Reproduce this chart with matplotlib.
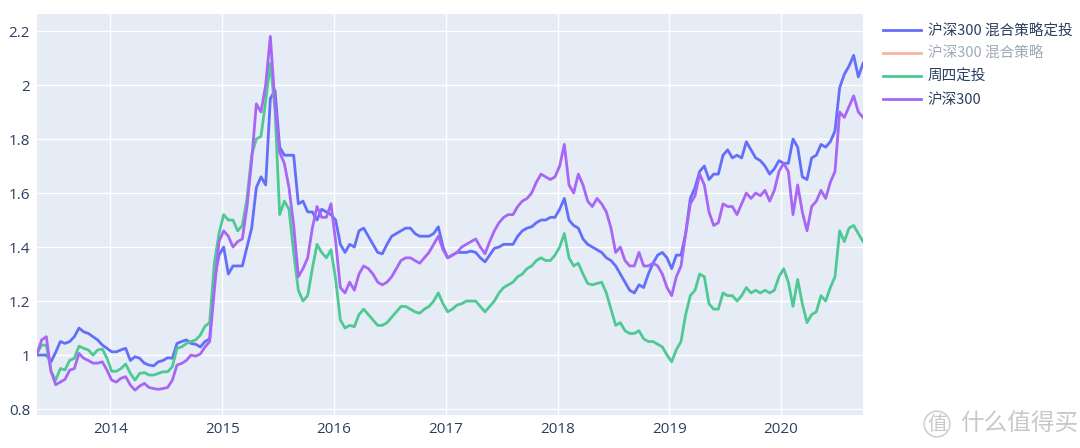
import matplotlib
matplotlib.use("Agg")
import matplotlib.pyplot as plt
import pandas as pd
from matplotlib.lines import Line2D

plt.rcParams['font.family'] = ['Noto Sans CJK SC', 'DejaVu Sans']

# half-monthly readings, May 2013 - Sep 2020
mix_dca = [
    1.00, 1.00, 1.00, 0.975, 1.01, 1.05, 1.043, 1.05, 1.068, 1.10, 1.086, 1.08,
    1.068, 1.056, 1.037, 1.025, 1.012, 1.012, 1.019, 1.025, 0.98, 0.994, 0.988, 0.97,
    0.963, 0.96, 0.975, 0.98, 0.99, 0.988, 1.043, 1.05, 1.056, 1.043, 1.04, 1.03,
    1.05, 1.06, 1.28, 1.37, 1.40, 1.30, 1.33, 1.33, 1.33, 1.40, 1.47, 1.62,
    1.66, 1.63, 1.95, 1.98, 1.77, 1.74, 1.74, 1.74, 1.56, 1.57, 1.53, 1.53,
    1.50, 1.54, 1.53, 1.52, 1.50, 1.41, 1.38, 1.41, 1.40, 1.46, 1.47, 1.44,
    1.41, 1.38, 1.375, 1.41, 1.44, 1.45, 1.46, 1.47, 1.47, 1.45, 1.44, 1.44,
    1.44, 1.45, 1.475, 1.40, 1.36, 1.37, 1.38, 1.38, 1.38, 1.385, 1.38, 1.36,
    1.345, 1.37, 1.395, 1.40, 1.41, 1.41, 1.41, 1.44, 1.46, 1.47, 1.475, 1.49,
    1.50, 1.50, 1.51, 1.51, 1.54, 1.58, 1.50, 1.48, 1.47, 1.43, 1.41, 1.40,
    1.39, 1.38, 1.36, 1.35, 1.33, 1.30, 1.27, 1.24, 1.23, 1.26, 1.25, 1.30,
    1.34, 1.37, 1.38, 1.36, 1.32, 1.37, 1.37, 1.45, 1.58, 1.62, 1.68, 1.70,
    1.65, 1.67, 1.67, 1.74, 1.76, 1.73, 1.74, 1.73, 1.79, 1.76, 1.73, 1.72,
    1.70, 1.67, 1.69, 1.72, 1.71, 1.71, 1.80, 1.77, 1.66, 1.65, 1.73, 1.74,
    1.78, 1.77, 1.79, 1.83, 1.99, 2.04, 2.07, 2.11, 2.03, 2.08,
]
thursday_dca = [
    1.006, 1.037, 1.037, 0.94, 0.907, 0.95, 0.945, 0.98, 0.988, 1.033, 1.025, 1.019,
    1.0, 1.019, 1.022, 0.988, 0.94, 0.94, 0.95, 0.967, 0.932, 0.907, 0.932, 0.935,
    0.926, 0.926, 0.932, 0.938, 0.938, 0.957, 1.025, 1.03, 1.043, 1.05, 1.056, 1.074,
    1.107, 1.12, 1.34, 1.45, 1.52, 1.50, 1.50, 1.46, 1.48, 1.58, 1.74, 1.80,
    1.81, 1.94, 2.08, 1.91, 1.52, 1.57, 1.54, 1.38, 1.24, 1.20, 1.22, 1.32,
    1.41, 1.38, 1.36, 1.39, 1.28, 1.13, 1.10, 1.11, 1.105, 1.15, 1.17, 1.15,
    1.13, 1.11, 1.11, 1.12, 1.14, 1.16, 1.18, 1.18, 1.17, 1.16, 1.155, 1.17,
    1.18, 1.20, 1.23, 1.19, 1.16, 1.17, 1.185, 1.19, 1.20, 1.20, 1.20, 1.18,
    1.16, 1.18, 1.20, 1.23, 1.25, 1.26, 1.27, 1.29, 1.30, 1.32, 1.33, 1.35,
    1.36, 1.35, 1.35, 1.37, 1.40, 1.45, 1.36, 1.33, 1.34, 1.30, 1.265, 1.26,
    1.265, 1.27, 1.23, 1.17, 1.11, 1.12, 1.09, 1.08, 1.08, 1.09, 1.06, 1.05,
    1.05, 1.04, 1.03, 1.00, 0.975, 1.02, 1.05, 1.15, 1.22, 1.24, 1.30, 1.29,
    1.19, 1.17, 1.17, 1.23, 1.22, 1.22, 1.20, 1.22, 1.25, 1.23, 1.24, 1.23,
    1.24, 1.23, 1.24, 1.29, 1.32, 1.27, 1.18, 1.28, 1.19, 1.12, 1.15, 1.16,
    1.22, 1.20, 1.25, 1.29, 1.46, 1.42, 1.47, 1.48, 1.45, 1.42,
]
hs300 = [
    1.006, 1.056, 1.068, 0.94, 0.89, 0.90, 0.91, 0.944, 0.95, 1.006, 0.988, 0.98,
    0.97, 0.97, 0.975, 0.944, 0.907, 0.90, 0.914, 0.92, 0.889, 0.87, 0.885, 0.895,
    0.88, 0.876, 0.873, 0.876, 0.88, 0.907, 0.963, 0.969, 0.98, 1.0, 0.996, 1.004,
    1.03, 1.05, 1.24, 1.42, 1.46, 1.44, 1.40, 1.42, 1.43, 1.55, 1.72, 1.93,
    1.90, 2.00, 2.18, 1.93, 1.75, 1.71, 1.62, 1.48, 1.29, 1.32, 1.36, 1.47,
    1.55, 1.51, 1.51, 1.56, 1.42, 1.25, 1.23, 1.27, 1.24, 1.30, 1.33, 1.32,
    1.30, 1.27, 1.26, 1.27, 1.29, 1.32, 1.35, 1.36, 1.36, 1.35, 1.34, 1.36,
    1.38, 1.41, 1.44, 1.39, 1.36, 1.37, 1.38, 1.40, 1.41, 1.42, 1.43, 1.40,
    1.375, 1.42, 1.46, 1.49, 1.51, 1.52, 1.52, 1.55, 1.57, 1.58, 1.60, 1.64,
    1.67, 1.66, 1.65, 1.66, 1.70, 1.78, 1.63, 1.60, 1.67, 1.63, 1.57, 1.55,
    1.58, 1.56, 1.53, 1.47, 1.38, 1.40, 1.35, 1.33, 1.33, 1.38, 1.33, 1.33,
    1.34, 1.33, 1.30, 1.25, 1.22, 1.29, 1.33, 1.45, 1.56, 1.59, 1.67, 1.63,
    1.53, 1.48, 1.49, 1.56, 1.55, 1.55, 1.52, 1.56, 1.60, 1.58, 1.60, 1.59,
    1.61, 1.57, 1.61, 1.68, 1.71, 1.68, 1.52, 1.63, 1.53, 1.46, 1.55, 1.57,
    1.61, 1.58, 1.64, 1.68, 1.90, 1.88, 1.92, 1.96, 1.90, 1.88,
]
names = ["沪深300 混合策略定投", "沪深300 混合策略", "周四定投", "沪深300"]
colors = ["#636EFA", "#EF553B", "#4FC994", "#A866F5"]
years = ["2014", "2015", "2016", "2017", "2018", "2019", "2020"]
yticks = [0.8, 1.0, 1.2, 1.4, 1.6, 1.8, 2.0, 2.2]
ylabels = ["0.8", "1", "1.2", "1.4", "1.6", "1.8", "2", "2.2"]

dates = pd.date_range("2013-05-06", "2020-09-25", periods=len(mix_dca))

fig = plt.figure(figsize=(10.8, 4.48), dpi=100)
ax = fig.add_axes([37 / 1080, 1 - 415 / 448, (863 - 37) / 1080, (415 - 14) / 448])
ax.set_facecolor("#E5ECF6")

lw = 2.0
ax.plot(dates, mix_dca, color=colors[0], lw=lw)
ax.plot(dates, thursday_dca, color=colors[2], lw=lw)
ax.plot(dates, hs300, color=colors[3], lw=lw)

ax.set_xlim(dates[0], dates[-1])
ax.set_ylim(0.778, 2.263)

ax.set_xticks(pd.to_datetime([y + "-01-01" for y in years]))
ax.set_xticklabels(years, fontfamily="Open Sans", fontsize=11, color="#2a3f5f")
ax.set_yticks(yticks)
ax.set_yticklabels(ylabels, fontfamily="Open Sans", fontsize=11, color="#2a3f5f")
ax.tick_params(length=0, pad=5)
ax.grid(color="white", lw=1.0)
ax.set_axisbelow(True)
for s in ax.spines.values():
    s.set_visible(False)

# legend (second trace is hidden, legend only)
handles = [Line2D([], [], color=c, lw=lw) for c in colors]
handles[1].set_alpha(0.45)
leg = fig.legend(handles, names, loc="upper left", bbox_to_anchor=(870 / 1080, 1 - 11 / 448),
                 frameon=False, fontsize=10.5, handlelength=2.6, handletextpad=0.45,
                 labelspacing=0.6)
for i, t in enumerate(leg.get_texts()):
    t.set_color("#2a3f5f")
    if i == 1:
        t.set_alpha(0.45)

# watermark
fig.text(937 / 1080, 1 - 424 / 448, "值", fontsize=14, color="#c8c8c8", ha="center", va="center",
         bbox=dict(boxstyle="circle,pad=0.12", fc="none", ec="#d0d0d0", lw=1.2))
fig.text(960 / 1080, 1 - 424 / 448, "什么值得买", fontsize=17, color="#c8c8c8", va="center")

fig.savefig("out.png", dpi=100)
